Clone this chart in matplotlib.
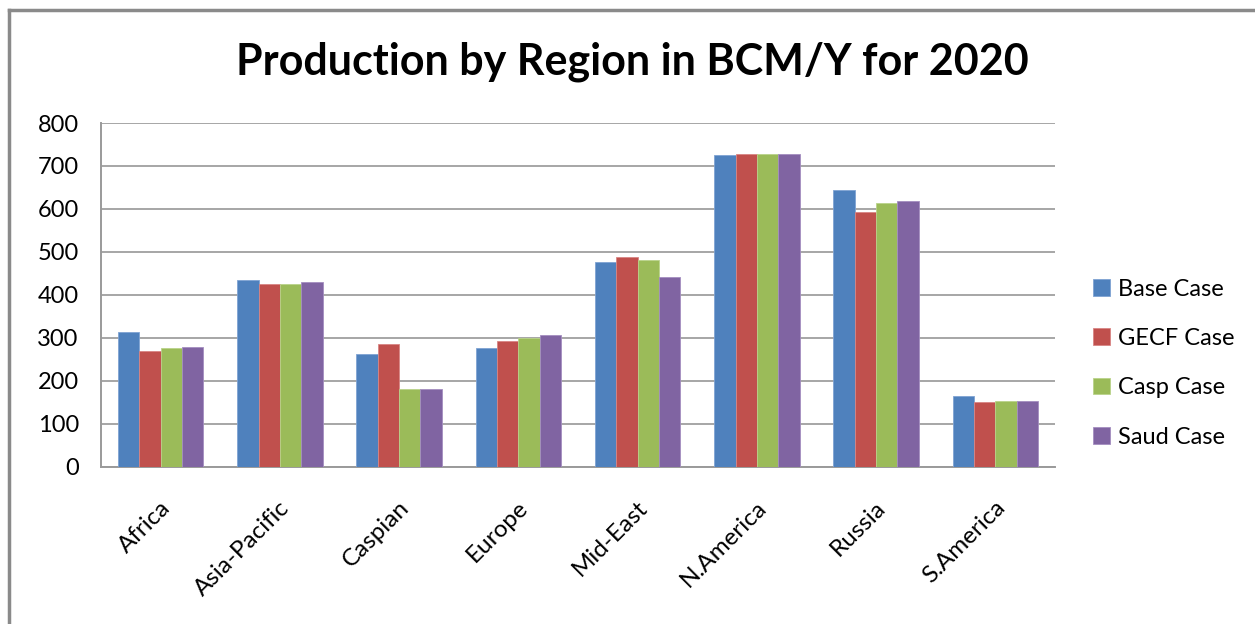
import matplotlib
matplotlib.use("Agg")
import matplotlib.pyplot as plt
import numpy as np
from matplotlib.lines import Line2D

regions = ["Africa", "Asia-Pacific", "Caspian", "Europe", "Mid-East", "N.America", "Russia", "S.America"]
series_names = ["Base Case", "GECF Case", "Casp Case", "Saud Case"]
base_case = [313, 435, 262, 275, 477, 725, 645, 164]
gecf_case = [269, 424, 286, 292, 489, 728, 592, 150]
casp_case = [275, 424, 181, 300, 480, 728, 613, 153]
saud_case = [278, 429, 181, 307, 441, 728, 619, 153]
y_ticks = [0, 100, 200, 300, 400, 500, 600, 700, 800]
title = "Production by Region in BCM/Y for 2020"

colors = ["#4F81BD", "#C0504D", "#9BBB59", "#8064A2"]
edge_colors = ["#7FA3D3", "#D88584", "#B9D38A", "#A48EC0"]
series = [base_case, gecf_case, casp_case, saud_case]

plt.rcParams['font.family'] = ['Lato', 'DejaVu Sans']

W, H = 1255, 624
fig = plt.figure(figsize=(W / 100, H / 100), dpi=100)
fig.patch.set_facecolor("white")

# outer chart border (top and left visible)
fig.add_artist(Line2D([9 / W, 1.0], [1 - 10 / H, 1 - 10 / H], transform=fig.transFigure,
                      color="#8a8a8a", lw=2.5))
fig.add_artist(Line2D([9 / W, 9 / W], [0, 1 - 10 / H], transform=fig.transFigure,
                      color="#8a8a8a", lw=2.5))

left, right, top, bottom = 101, 1055, 123, 466.5
ax = fig.add_axes([left / W, 1 - bottom / H, (right - left) / W, (bottom - top) / H])

x = np.arange(len(regions))
bw = 0.179
for i, (vals, name) in enumerate(zip(series, series_names)):
    ax.bar(x + (i - 1.5) * bw, vals, width=bw, color=colors[i], edgecolor=edge_colors[i],
           linewidth=0.6, label=name, zorder=3)

fs = 17
ax.set_xlim(-0.5, len(regions) - 0.5)
ax.set_ylim(0, 800)
ax.set_yticks(y_ticks)
ax.set_yticklabels([str(t) for t in y_ticks], fontsize=fs)
ax.yaxis.grid(True, color="#a6a6a6", lw=1.4, zorder=0)
ax.set_axisbelow(True)
ax.tick_params(axis="y", length=0, pad=16)
ax.tick_params(axis="x", length=0, pad=22)
for s in ["top", "right"]:
    ax.spines[s].set_visible(False)
for s in ["left", "bottom"]:
    ax.spines[s].set_color("#9a9a9a")
    ax.spines[s].set_linewidth(1.4)

ax.set_xticks(x)
ax.set_xticklabels(regions, rotation=45, ha="right", va="top", rotation_mode="anchor", fontsize=17.5)
for lbl in ax.get_xticklabels():
    lbl.set_transform(lbl.get_transform() + matplotlib.transforms.ScaledTranslation(-0.01, 0, fig.dpi_scale_trans))

fig.text(632 / W, 1 - 62 / H, title, ha="center", va="center", fontsize=31, fontweight="bold")

leg = ax.legend(loc="center left", bbox_to_anchor=(1072 / W, 1 - 363 / H), bbox_transform=fig.transFigure,
                frameon=False, fontsize=fs, handlelength=0.7, handleheight=0.7, handletextpad=0.35,
                labelspacing=1.2)

fig.savefig("out.png", dpi=100, facecolor="white")
